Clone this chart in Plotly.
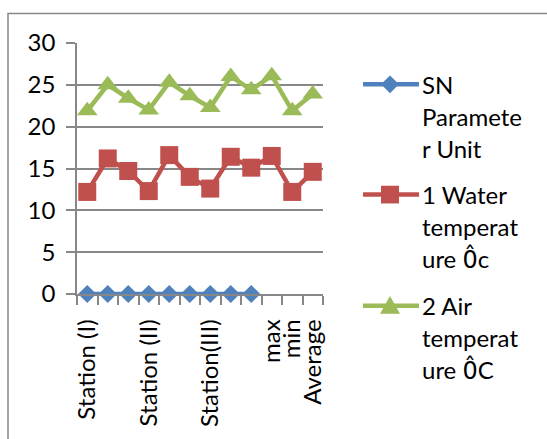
import plotly.graph_objects as go

categories = ["Station (I)", "", "", "Station (II)", "", "", "Station(III)", "", "", "max", "min", "Average"]
ZERO_HAT = '<span style="font-family:DejaVu Sans">0\u0302</span>'
series_names = [["SN", "Paramete", "r Unit"],
                ["1 Water", "temperat", "ure " + ZERO_HAT + "c"],
                ["2 Air", "temperat", "ure " + ZERO_HAT + "C"]]
sn_values = [0, 0, 0, 0, 0, 0, 0, 0, 0, None, None, None]
water_values = [12.2, 16.2, 14.7, 12.3, 16.6, 14.0, 12.6, 16.4, 15.1, 16.5, 12.2, 14.6]
air_values = [21.9, 25.0, 23.4, 22.0, 25.3, 23.7, 22.3, 26.0, 24.4, 26.1, 21.9, 23.9]
y_ticks = [0, 5, 10, 15, 20, 25, 30]

colors = ["#4F81BD", "#C0504D", "#9BBB59"]
symbols = ["diamond", "square", "triangle-up"]
sizes = [14, 18, 18]
FONT = "Lato"
FS = 24

W, H = 547, 439
L, R, T, B = 77, 323, 43, 298

def px(x):
    return (x - L) / (R - L)

def py(y):
    return (B - y) / (B - T)

xs = list(range(len(categories)))
fig = go.Figure()
for vals, c, s, sz in zip([sn_values, water_values, air_values], colors, symbols, sizes):
    fig.add_trace(go.Scatter(x=xs, y=vals, mode="lines+markers",
                             line=dict(color=c, width=4.5),
                             marker=dict(symbol=s, size=sz, color=c),
                             showlegend=False, cliponaxis=False))

shapes = []
annotations = []
# outer border
shapes.append(dict(type="rect", xref="paper", yref="paper",
                   x0=px(8), x1=px(600), y0=py(480), y1=py(13),
                   line=dict(color="#878787", width=1.5), layer="below"))

# custom legend
entry_y = [85, 197, 310]
for names, ey, c, s in zip(series_names, entry_y, colors, symbols):
    shapes.append(dict(type="line", xref="paper", yref="paper",
                       x0=px(363), x1=px(419), y0=py(ey), y1=py(ey),
                       line=dict(color=c, width=4.5)))
    cx, cy = 390, ey
    if s == "diamond":
        pts = [(cx-9, cy), (cx, cy-9), (cx+9, cy), (cx, cy+9)]
    elif s == "square":
        pts = [(cx-9, cy-9), (cx+9, cy-9), (cx+9, cy+9), (cx-9, cy+9)]
    else:
        pts = [(cx-10, cy+8), (cx+10, cy+8), (cx, cy-10)]
    path = "M" + " L".join(f"{px(a)},{py(b)}" for a, b in pts) + " Z"
    shapes.append(dict(type="path", xref="paper", yref="paper", path=path,
                       fillcolor=c, line=dict(color=c, width=0)))
    for i, line in enumerate(names):
        annotations.append(dict(xref="paper", yref="paper", x=px(420), y=py(ey + i * 32.5),
                                text=line, showarrow=False, xanchor="left", yanchor="middle",
                                font=dict(family=FONT, size=FS, color="#000000")))

fig.update_layout(
    width=W, height=H,
    margin=dict(l=L, r=W - R, t=T, b=H - B),
    paper_bgcolor="white", plot_bgcolor="white",
    font=dict(family=FONT, size=FS, color="#000000"),
    shapes=shapes, annotations=annotations,
    xaxis=dict(range=[-0.5, len(categories) - 0.5], tickvals=xs, ticktext=categories,
               tickangle=-90, ticks="", showgrid=False, zeroline=False,
               showline=True, linecolor="#878787", linewidth=1.5,
               ticklabelstandoff=14,
               minor=dict(tick0=-0.5, dtick=1, ticks="outside", ticklen=9,
                          tickcolor="#878787", tickwidth=1.5, showgrid=False),
               tickfont=dict(family=FONT, size=FS), fixedrange=True),
    yaxis=dict(range=[0, 30], tickvals=y_ticks, ticks="outside", ticklen=9,
               tickcolor="#878787", tickwidth=1.5,
               showgrid=True, gridcolor="#878787", gridwidth=1.5,
               zeroline=False, showline=True, linecolor="#878787", linewidth=1.5,
               ticklabelstandoff=6,
               tickfont=dict(family=FONT, size=FS), fixedrange=True),
)
fig.write_html("out.html")
